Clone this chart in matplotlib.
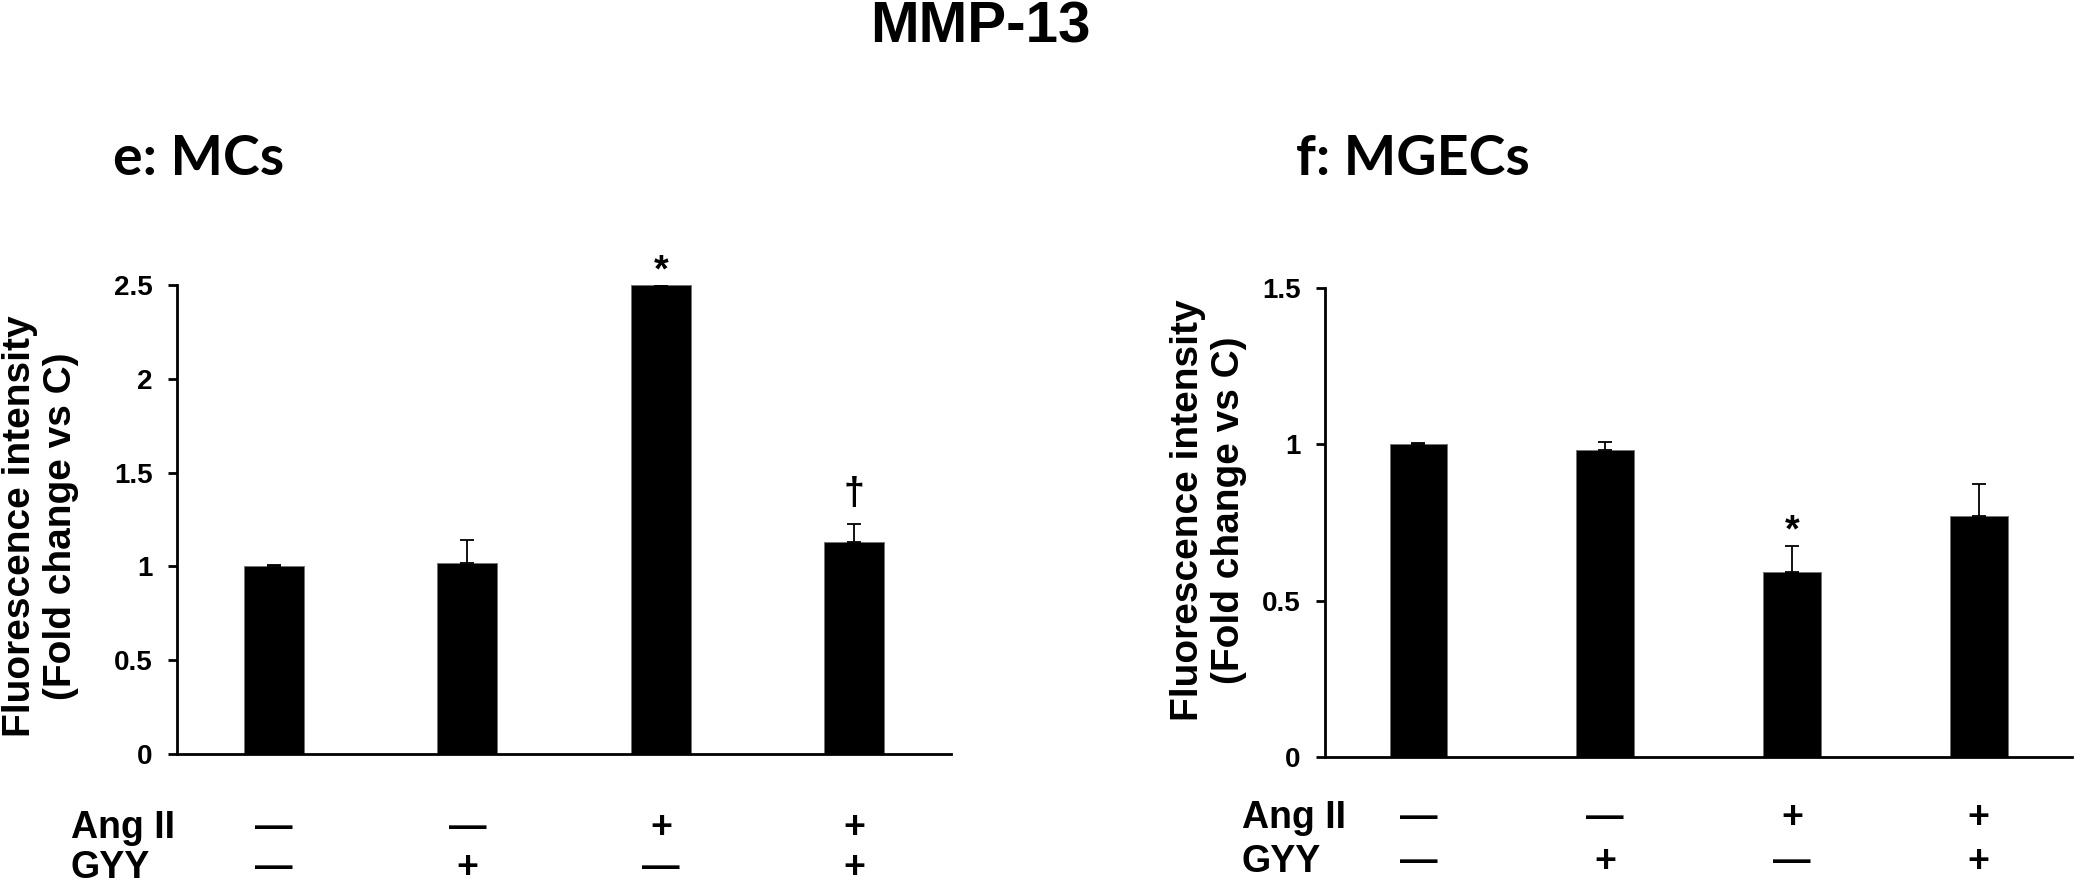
import numpy as np
import matplotlib
matplotlib.use("Agg")
import matplotlib.pyplot as plt
from matplotlib.transforms import blended_transform_factory

# data
groups = ["C", "GYY", "Ang II", "Ang II + GYY"]
ang_ii = ["—", "—", "+", "+"]
gyy = ["—", "+", "—", "+"]

mcs_mean = [1.00, 1.02, 2.50, 1.13]
mcs_err = [0.005, 0.12, 0.0, 0.095]
mcs_marks = ["", "", "*", "†"]
mcs_mark_y = [0, 0, 2.52, 1.33]

mgecs_mean = [1.00, 0.982, 0.592, 0.771]
mgecs_err = [0.003, 0.025, 0.083, 0.102]
mgecs_marks = ["", "", "*", ""]
mgecs_mark_y = [0, 0, 0.69, 0]

arial = "Liberation Sans"
plt.rcParams['font.family'] = [arial, 'DejaVu Sans']
plt.rcParams['font.weight'] = 'bold'

fig = plt.figure(figsize=(21, 8.86), dpi=100)

ax1 = fig.add_axes([0.0843, 0.1490, 0.3686, 0.5293])
ax2 = fig.add_axes([0.6310, 0.1456, 0.3557, 0.5294])


def panel(ax, mean, err, marks, mark_y, ymax, yticks, ticklabels):
    x = np.arange(len(mean))
    ax.bar(x, mean, width=0.31, color='black', edgecolor='0.45', linewidth=0.7, zorder=2)
    ax.errorbar(x, mean, yerr=[np.zeros(len(err)), err], fmt='none', ecolor='black',
                elinewidth=1.3, capsize=5, capthick=1.3, zorder=3)
    for xi, m, my in zip(x, marks, mark_y):
        if m:
            ax.text(xi, my, m, ha='center', va='baseline', fontsize=27, fontweight='bold')
    ax.set_xlim(-0.5, 3.5)
    ax.set_ylim(0, ymax)
    ax.set_yticks(yticks)
    ax.set_yticklabels(ticklabels)
    ax.spines['top'].set_visible(False)
    ax.spines['right'].set_visible(False)
    ax.spines['left'].set_linewidth(2)
    ax.spines['bottom'].set_linewidth(2)
    ax.set_xticks([])
    ax.tick_params(axis='y', direction='out', length=6.5, width=2, pad=11, labelsize=20)
    for lab in ax.get_yticklabels():
        lab.set_fontweight('bold')


panel(ax1, mcs_mean, mcs_err, mcs_marks, mcs_mark_y, 2.5,
      [0, 0.5, 1, 1.5, 2, 2.5], ["0", "0.5", "1", "1.5", "2", "2.5"])
panel(ax2, mgecs_mean, mgecs_err, mgecs_marks, mgecs_mark_y, 1.5,
      [0, 0.5, 1, 1.5], ["0", "0.5", "1", "1.5"])

ylab = "Fluorescence intensity\n(Fold change vs C)"
fig.text(0.0193, 0.406, ylab, rotation=90, ha='center', va='center',
         multialignment='center', fontsize=28, fontweight='bold', linespacing=1.2)
fig.text(0.5755, 0.424, ylab, rotation=90, ha='center', va='center',
         multialignment='center', fontsize=28, fontweight='bold', linespacing=1.2)

# titles
fig.text(0.467, 0.9515, "MMP-13", ha='center', va='baseline', fontsize=42, fontweight='bold')
fig.text(0.054, 0.8025, "e: MCs", ha='left', va='baseline', fontsize=40, fontweight='bold',
         family=['Lato', 'DejaVu Sans'])
fig.text(0.617, 0.8025, "f: MGECs", ha='left', va='baseline', fontsize=40, fontweight='bold',
         family=['Lato', 'DejaVu Sans'])

# treatment rows under the bars
rows = [(ax1, 0.0338, 0.0542, 0.0095), (ax2, 0.5914, 0.0655, 0.0160)]
for ax, xl, y_ang, y_gyy in rows:
    fig.text(xl, y_ang, "Ang II", ha='left', va='baseline', fontsize=27, fontweight='bold')
    fig.text(xl, y_gyy, "GYY", ha='left', va='baseline', fontsize=27, fontweight='bold')
    tr = blended_transform_factory(ax.transData, fig.transFigure)
    for i in range(len(groups)):
        ax.text(i, y_ang, ang_ii[i], transform=tr, ha='center', va='baseline',
                fontsize=27, fontweight='bold', clip_on=False)
        ax.text(i, y_gyy, gyy[i], transform=tr, ha='center', va='baseline',
                fontsize=27, fontweight='bold', clip_on=False)

fig.savefig("out.png", dpi=100)
